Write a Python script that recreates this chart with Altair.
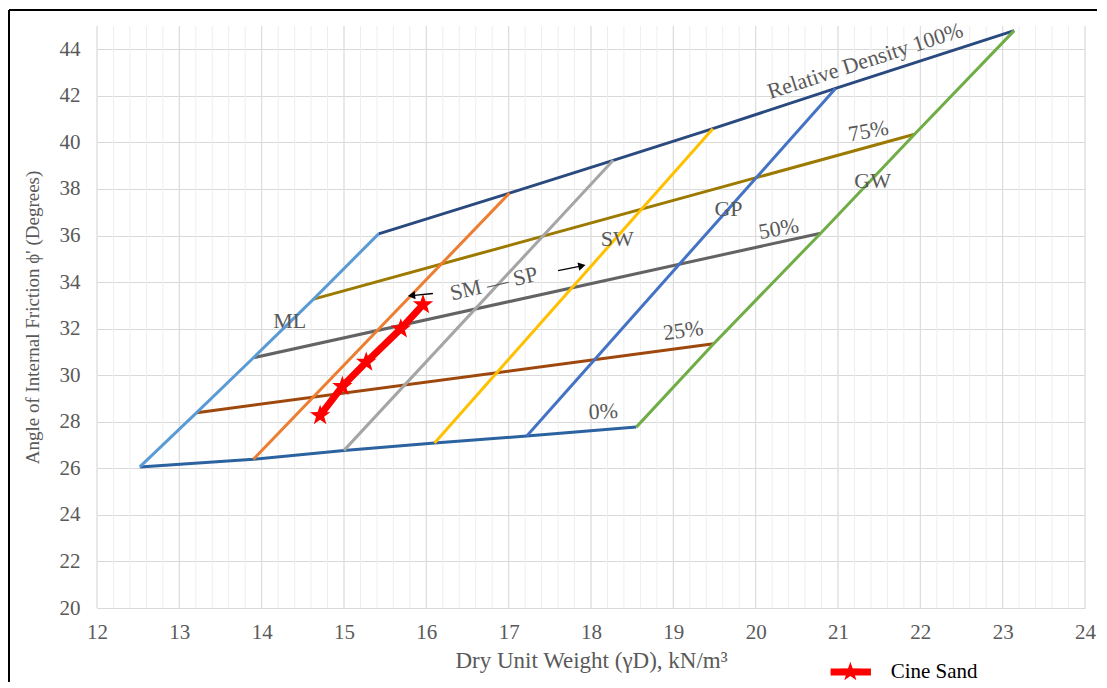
import altair as alt
import pandas as pd

# ---------------- data ----------------
rd100_x = [15.42, 17.01, 18.27, 19.48, 20.97, 23.14]
rd100_y = [36.07, 37.82, 39.23, 40.59, 42.32, 44.80]
rd75_x = [14.63, 21.93]
rd75_y = [33.27, 40.35]
rd50_x = [13.90, 20.79]
rd50_y = [30.75, 36.10]
rd25_x = [13.21, 19.49]
rd25_y = [28.39, 31.35]
rd0_x = [12.52, 13.90, 15.00, 16.10, 17.22, 18.55]
rd0_y = [26.06, 26.39, 26.77, 27.09, 27.39, 27.77]

ml_x = [12.52, 13.21, 13.90, 14.63, 15.42]
ml_y = [26.06, 28.39, 30.75, 33.27, 36.07]
sm_x = [13.90, 17.01]
sm_y = [26.39, 37.82]
sp_x = [15.00, 18.27]
sp_y = [26.77, 39.23]
sw_x = [16.10, 19.48]
sw_y = [27.09, 40.59]
gp_x = [17.22, 20.97]
gp_y = [27.39, 42.32]
gw_x = [18.55, 19.49, 20.79, 21.93, 23.14]
gw_y = [27.77, 31.35, 36.10, 40.35, 44.80]

cine_x = [14.71, 14.98, 15.27, 15.69, 15.96]
cine_y = [28.27, 29.52, 30.56, 31.99, 33.03]

label_text = ["Relative Density 100%", "75%", "50%", "25%", "0%",
              "ML", "SM — SP", "SW", "GP", "GW"]
label_x = [21.33, 21.37, 20.28, 19.12, 18.15, 14.34, 16.82, 18.32, 19.67, 21.42]
label_y = [43.50, 40.49, 36.29, 31.92, 28.44, 32.34, 33.93, 35.86, 37.15, 38.35]
label_angle = [342, 350, 350, 352, 357, 0, 347, 0, 0, 0]

arrow_x1 = [16.08, 17.60]
arrow_y1 = [33.51, 34.49]
arrow_x2 = [15.82, 17.89]
arrow_y2 = [33.42, 34.70]
arrow_shape = ["triangle-left", "triangle-right"]
arrow_angle = [354, 348]

# legend (drawn below the plot, in data units)
legend_label = ["Cine Sand"]
legend_sym_x = [21.15]
legend_line_x1 = [20.91]
legend_line_x2 = [21.40]
legend_y = [17.25]
legend_text_x = [21.64]

x_major = list(range(12, 25))
x_minor = [round(12 + 0.2 * i, 1) for i in range(61)]
y_ticks = list(range(20, 45, 2))

series = [
    ("100%", rd100_x, rd100_y, "#2a4a7f"),
    ("75%", rd75_x, rd75_y, "#9c7a00"),
    ("50%", rd50_x, rd50_y, "#636363"),
    ("25%", rd25_x, rd25_y, "#9e480e"),
    ("0%", rd0_x, rd0_y, "#2b62a0"),
    ("ML", ml_x, ml_y, "#5b9bd5"),
    ("SM", sm_x, sm_y, "#ed7d31"),
    ("SP", sp_x, sp_y, "#a5a5a5"),
    ("SW", sw_x, sw_y, "#ffc000"),
    ("GP", gp_x, gp_y, "#4472c4"),
    ("GW", gw_x, gw_y, "#70ad47"),
]

FONT = "Liberation Serif"
GRAY_TXT = "#595959"
STAR = ("M0,-1L0.235,-0.324L0.951,-0.309L0.38,0.124L0.588,0.809L0,0.4"
        "L-0.588,0.809L-0.38,0.124L-0.951,-0.309L-0.235,-0.324Z")

x_scale = alt.Scale(domain=[12, 24], nice=False, zero=False)
y_scale = alt.Scale(domain=[20, 45], nice=False, zero=False)

x_axis = alt.Axis(
    values=x_major, tickCount=100, title="Dry Unit Weight (γD), kN/m³",
    grid=False, ticks=False, domainColor="#d9d9d9",
    labelFont=FONT, labelFontSize=21, format="d",
    labelColor=GRAY_TXT, labelPadding=13, labelOverlap=False, labelFlush=False,
    titleFont=FONT, titleFontSize=23, titleFontWeight="normal", titleColor=GRAY_TXT,
    titlePadding=7,
)
y_axis = alt.Axis(
    values=y_ticks, tickCount=100, format="d", title="Angle of Internal Friction ϕ' (Degrees)",
    gridColor="#d9d9d9", ticks=False, domain=False, labelFont=FONT, labelFontSize=21,
    labelColor=GRAY_TXT, labelPadding=17, labelOverlap=False, labelFlush=False,
    titleFont=FONT, titleFontSize=19, titleFontWeight="normal", titleColor=GRAY_TXT,
    titlePadding=17,
)

layers = []
# minor vertical grid (every 0.2) then major (every 1)
minor_df = pd.DataFrame({"x": x_minor, "y0": [20] * len(x_minor), "y1": [45] * len(x_minor)})
layers.append(alt.Chart(minor_df).mark_rule(color="#eeeeee", strokeWidth=1).encode(
    x=alt.X("x:Q", scale=x_scale, axis=x_axis),
    y=alt.Y("y0:Q", scale=y_scale, axis=y_axis),
    y2="y1:Q",
))
major_df = pd.DataFrame({"x": x_major, "y0": [20] * len(x_major), "y1": [45] * len(x_major)})
layers.append(alt.Chart(major_df).mark_rule(color="#d9d9d9", strokeWidth=1).encode(
    x="x:Q", y="y0:Q", y2="y1:Q"))

for name, xs, ys, col in series:
    df = pd.DataFrame({"x": xs, "y": ys, "i": list(range(len(xs)))})
    layers.append(alt.Chart(df).mark_line(strokeWidth=3, color=col).encode(
        x="x:Q", y="y:Q", order="i:Q"))

cine_df = pd.DataFrame({"x": cine_x, "y": cine_y, "i": list(range(len(cine_x)))})
layers.append(alt.Chart(cine_df).mark_line(strokeWidth=7, color="#ff0000").encode(
    x="x:Q", y="y:Q", order="i:Q"))
layers.append(alt.Chart(cine_df).mark_point(shape=STAR, filled=True, size=460,
                                           color="#ff0000", opacity=1).encode(x="x:Q", y="y:Q"))

for t, xv, yv, a in zip(label_text, label_x, label_y, label_angle):
    df = pd.DataFrame({"t": [t], "x": [xv], "y": [yv]})
    layers.append(alt.Chart(df).mark_text(font=FONT, fontSize=22, color=GRAY_TXT,
                                          angle=a).encode(x="x:Q", y="y:Q", text="t:N"))

for xa, ya, xb, yb, shp, a in zip(arrow_x1, arrow_y1, arrow_x2, arrow_y2, arrow_shape, arrow_angle):
    df = pd.DataFrame({"x": [xa], "y": [ya], "xh": [xb], "yh": [yb]})
    layers.append(alt.Chart(df).mark_rule(color="#000000", strokeWidth=1.3).encode(
        x="x:Q", y="y:Q", x2="xh:Q", y2="yh:Q"))
    layers.append(alt.Chart(df).mark_point(shape=shp, angle=a, filled=True, size=70,
                                          color="#000000", opacity=1).encode(x="xh:Q", y="yh:Q"))

legend_df = pd.DataFrame({"t": legend_label, "xs": legend_sym_x, "x1": legend_line_x1,
                          "x2": legend_line_x2, "y": legend_y, "xt": legend_text_x})
layers.append(alt.Chart(legend_df).mark_rule(color="#ff0000", strokeWidth=7, clip=False).encode(
    x="x1:Q", x2="x2:Q", y="y:Q"))
layers.append(alt.Chart(legend_df).mark_point(shape=STAR, filled=True, size=420,
                                             color="#ff0000", opacity=1, clip=False).encode(
    x="xs:Q", y="y:Q"))
layers.append(alt.Chart(legend_df).mark_text(font=FONT, fontSize=21, color="#000000",
                                            align="left", clip=False).encode(
    x="xt:Q", y="y:Q", text="t:N"))

# outer frame of the figure (decoration)
one = pd.DataFrame({"k": [0]})
layers.append(alt.Chart(one).mark_rule(color="#000000", strokeWidth=2, clip=False).encode(
    x=alt.value(-88), x2=alt.value(1008), y=alt.value(-16)))
layers.append(alt.Chart(one).mark_rule(color="#000000", strokeWidth=2, clip=False).encode(
    x=alt.value(-88), y=alt.value(-16), y2=alt.value(680)))
layers.append(alt.Chart(one).mark_rule(color="#a6a6a6", strokeWidth=2, clip=False).encode(
    x=alt.value(1008), y=alt.value(-16), y2=alt.value(680)))

chart = alt.layer(*layers).properties(
    width=988, height=582,
    autosize=alt.AutoSizeParams(type="none"),
    padding={"left": 89, "top": 18, "right": 12, "bottom": 74},
    background="#ffffff",
).configure_view(stroke=None)

chart.save("out.html", embed_options={"renderer": "svg", "actions": False})
